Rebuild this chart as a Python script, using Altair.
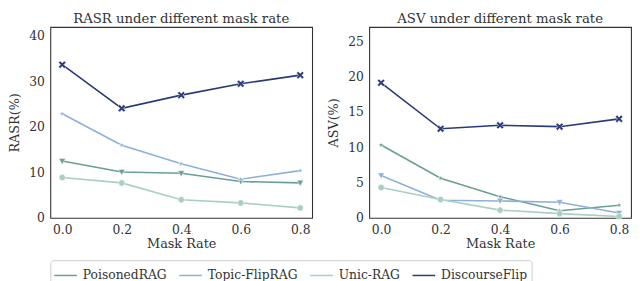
import math
import altair as alt
import pandas as pd

# ---------------- data ----------------
mask_rates = [0.0, 0.2, 0.4, 0.6, 0.8]
series_names = ["PoisonedRAG", "Topic-FlipRAG", "Unic-RAG", "DiscourseFlip"]

rasr_poisoned = [12.5, 10.1, 9.8, 8.0, 7.7]
rasr_topic = [22.9, 16.0, 11.9, 8.5, 10.4]
rasr_unic = [8.9, 7.7, 4.0, 3.3, 2.2]
rasr_discourse = [33.7, 24.1, 27.0, 29.5, 31.4]

asv_poisoned = [10.3, 5.6, 3.0, 1.0, 1.8]
asv_topic = [6.0, 2.5, 2.4, 2.2, 0.7]
asv_unic = [4.3, 2.6, 1.1, 0.6, 0.2]
asv_discourse = [19.1, 12.6, 13.1, 12.9, 14.0]

x_ticks = [0.0, 0.2, 0.4, 0.6, 0.8]
rasr_ticks = [0, 10, 20, 30, 40]
asv_ticks = [0, 5, 10, 15, 20, 25]

colors = ["#6a9f97", "#8fb0d6", "#a9cfc4", "#2a3a78"]

left_markers = ["tri", "star", "circle", "x"]
right_markers = ["star", "tri", "circle", "x"]

FONT = "DejaVu Serif"
TXT = "#333333"


def long_df(values_by_series, markers):
    rows = []
    for name, mk, vals in zip(series_names, markers, values_by_series):
        for r, v in zip(mask_rates, vals):
            rows.append({"rate": r, "series": name, "marker": mk, "value": v})
    return pd.DataFrame(rows)


rasr_df = long_df([rasr_poisoned, rasr_topic, rasr_unic, rasr_discourse], left_markers)
asv_df = long_df([asv_poisoned, asv_topic, asv_unic, asv_discourse], right_markers)

# ------------- marker paths (unit box -1..1) -------------
def fmt(v):
    return f"{v:.3f}"


def poly(pts):
    return "M" + "L".join(f"{fmt(x)},{fmt(y)}" for x, y in pts) + "Z"


def star(ro, ri):
    pts = []
    for k in range(10):
        ang = math.radians(-90 + 36 * k)
        r = ro if k % 2 == 0 else ri
        pts.append((r * math.cos(ang), r * math.sin(ang)))
    return poly(pts)


def xmark(a, t):
    plus = [(t, -a), (t, -t), (a, -t), (a, t), (t, t), (t, a), (-t, a), (-t, t),
            (-a, t), (-a, -t), (-t, -t), (-t, -a)]
    c = math.cos(math.pi / 4)
    return poly([((x - y) * c, (x + y) * c) for x, y in plus])


def circle(r):
    return f"M{-r},0A{r},{r} 0 1,1 {r},0A{r},{r} 0 1,1 {-r},0Z"


marker_names = ["tri", "star", "circle", "x"]
marker_paths = [
    poly([(-0.85, -0.65), (0.85, -0.65), (0.0, 0.85)]),
    star(0.7, 0.3),
    circle(0.8),
    xmark(1.05, 0.3),
]

LEG_LINE = "M-1,-0.065H1V0.065H-1Z"

color_scale = alt.Scale(domain=series_names, range=colors)
shape_scale = alt.Scale(domain=marker_names, range=marker_paths)


def panel(df, ytitle, ymax, yticks, title, with_legend):
    if with_legend:
        leg = alt.Legend(
            orient="bottom", direction="horizontal", title=None,
            labelFont=FONT, labelFontSize=12.5, labelColor=TXT,
            symbolType=LEG_LINE, symbolSize=529, symbolStrokeWidth=0,
            columnPadding=12, labelOffset=6, padding=4, offset=8,
            strokeColor="#cccccc", cornerRadius=3,
        )
    else:
        leg = None
    return alt.Chart(df).mark_line(
        strokeWidth=1.6,
        point=alt.OverlayMarkDef(filled=True, opacity=1, size=64, stroke="white", strokeWidth=0.5),
    ).encode(
        x=alt.X("rate:Q", scale=alt.Scale(domain=[-0.04, 0.84], nice=False, zero=False),
                axis=alt.Axis(values=x_ticks, format=".1f", title="Mask Rate")),
        y=alt.Y("value:Q", scale=alt.Scale(domain=[0, ymax], nice=False),
                axis=alt.Axis(values=yticks, title=ytitle)),
        color=alt.Color("series:N", scale=color_scale, legend=leg),
        shape=alt.Shape("marker:N", scale=shape_scale, legend=None),
    ).properties(
        width=266, height=194,
        title=alt.TitleParams(title, font=FONT, fontSize=13.5, fontWeight="normal",
                              color=TXT, offset=2),
    )


left = panel(rasr_df, "RASR(%)", 42, rasr_ticks, "RASR under different mask rate", True)
right = panel(asv_df, "ASV(%)", 27, asv_ticks, "ASV under different mask rate", False)

chart = alt.hconcat(left, right, spacing=14).properties(padding=0).configure_view(
    stroke="#333333", strokeWidth=1.1
).configure_axis(
    grid=False, tickSize=0, tickColor="transparent", domainColor="transparent",
    labelFont=FONT, labelFontSize=12.5, labelColor=TXT, labelPadding=6,
    titleFont=FONT, titleFontSize=13, titleFontWeight="normal", titleColor=TXT,
).configure_axisX(titlePadding=2).configure_axisY(titlePadding=7)

chart.save("out.html", embed_options={"renderer": "svg", "actions": False})
